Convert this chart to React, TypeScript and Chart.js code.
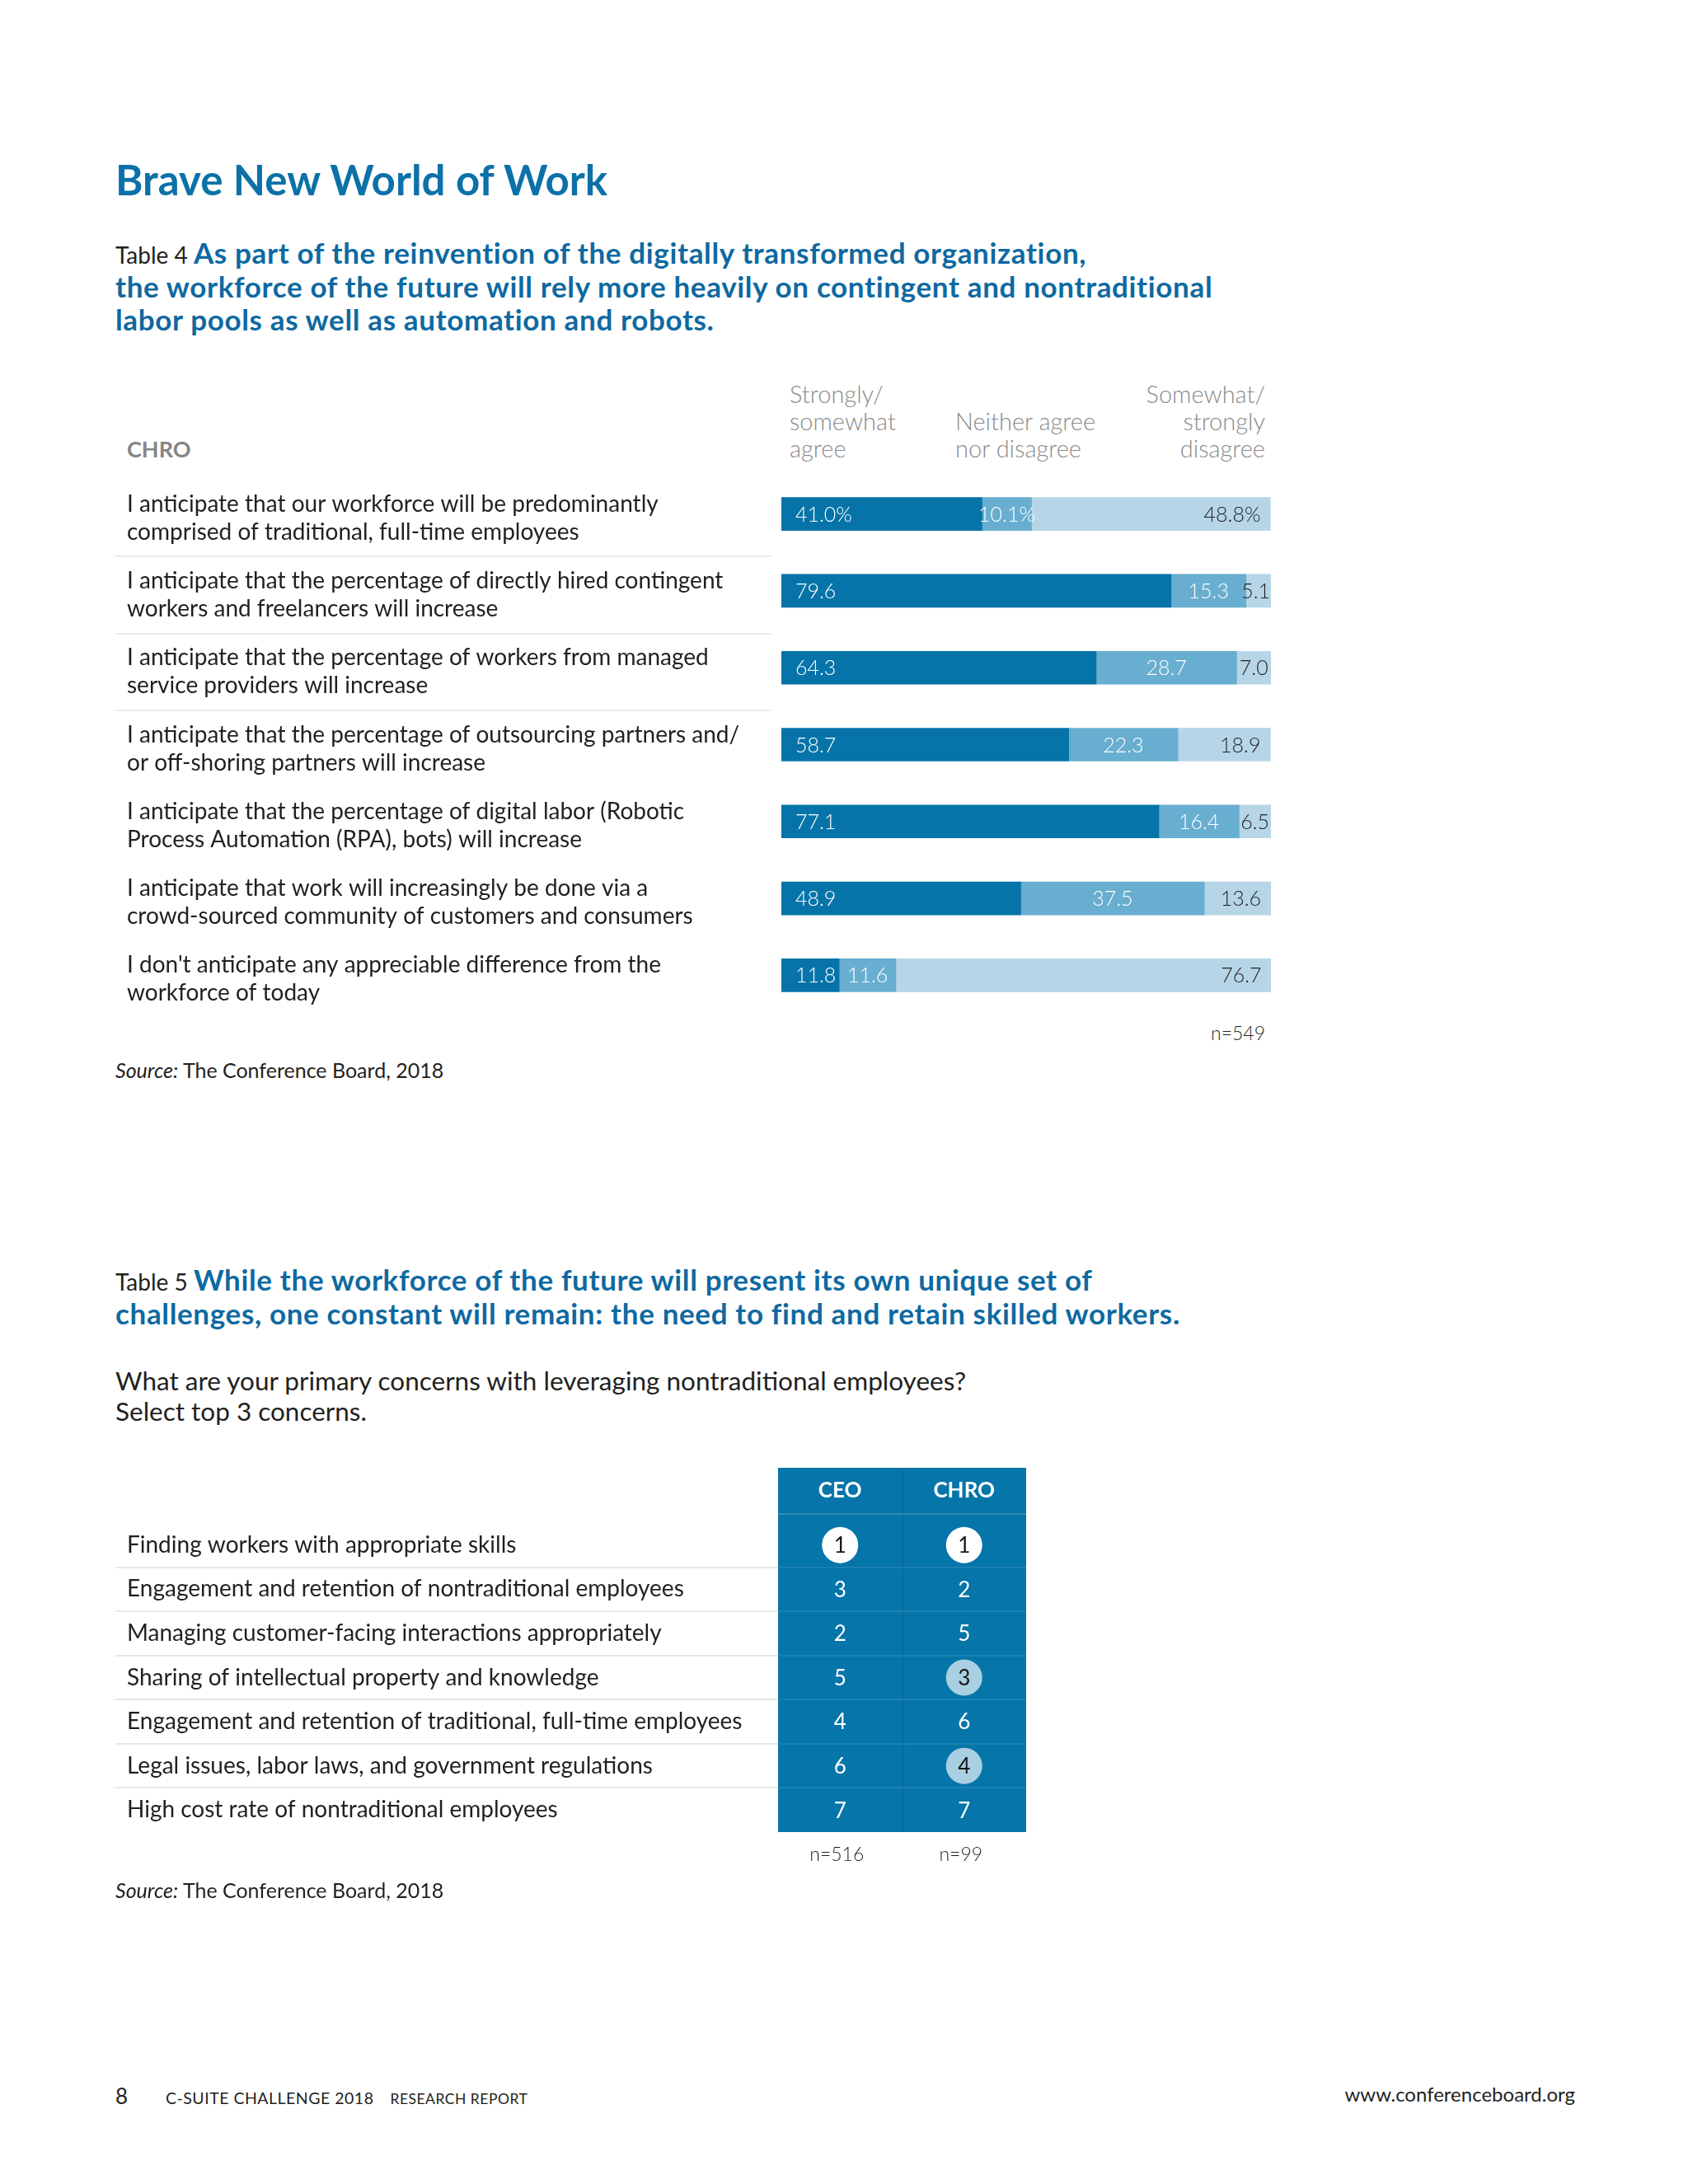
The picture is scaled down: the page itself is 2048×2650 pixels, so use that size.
import React, { useEffect, useRef } from 'react';
import { Chart, registerables } from 'chart.js';

Chart.register(...registerables);

const FONT = 'Lato, "Noto Sans", "DejaVu Sans", sans-serif';

// ---------- Table 4 data ----------
const statements: string[][] = [
  ['I anticipate that our workforce will be predominantly', 'comprised of traditional, full-time employees'],
  ['I anticipate that the percentage of directly hired contingent', 'workers and freelancers will increase'],
  ['I anticipate that the percentage of workers from managed', 'service providers will increase'],
  ['I anticipate that the percentage of outsourcing partners and/', 'or off-shoring partners will increase'],
  ['I anticipate that the percentage of digital labor (Robotic', 'Process Automation (RPA), bots) will increase'],
  ['I anticipate that work will increasingly be done via a', 'crowd-sourced community of customers and consumers'],
  ["I don't anticipate any appreciable difference from the", 'workforce of today'],
];
const agree = [41.0, 79.6, 64.3, 58.7, 77.1, 48.9, 11.8];
const neither = [10.1, 15.3, 28.7, 22.3, 16.4, 37.5, 11.6];
const disagree = [48.8, 5.1, 7.0, 18.9, 6.5, 13.6, 76.7];
const seriesNames = ['Strongly/somewhat agree', 'Neither agree nor disagree', 'Somewhat/strongly disagree'];
const percentRow = 0;
const ruledRows = [0, 1, 2];
const sample4 = 'n=549';

// ---------- Table 5 data ----------
const concerns = [
  'Finding workers with appropriate skills',
  'Engagement and retention of nontraditional employees',
  'Managing customer-facing interactions appropriately',
  'Sharing of intellectual property and knowledge',
  'Engagement and retention of traditional, full-time employees',
  'Legal issues, labor laws, and government regulations',
  'High cost rate of nontraditional employees',
];
const respondents = ['CEO', 'CHRO'];
const ceoRanks = [1, 3, 2, 5, 4, 6, 7];
const chroRanks = [1, 2, 5, 3, 6, 4, 7];
const ceoMarks = ['white', '', '', '', '', '', ''];
const chroMarks = ['white', '', '', 'light', '', 'light', ''];
const sampleSizes = ['n=516', 'n=99'];

const BAR_COLORS = ['#0674a8', '#68aed0', '#b6d6e8'];
const BLOCK_BLUE = '#0675a9';
const TEXT = '#231f20';

type TP = {
  x: number; y: number; size: number; color?: string; weight?: number;
  align?: 'left' | 'right' | 'center'; italic?: boolean; children: React.ReactNode; ls?: number;
};
function T({ x, y, size, color = TEXT, weight = 400, align = 'left', italic, children, ls }: TP) {
  const style: React.CSSProperties = {
    position: 'absolute', top: y - 0.887 * size, fontFamily: FONT, fontSize: size,
    lineHeight: `${size}px`, color, fontWeight: weight, whiteSpace: 'nowrap',
    fontStyle: italic ? 'italic' : 'normal', letterSpacing: ls,
  };
  if (align === 'left') style.left = x;
  else if (align === 'right') { style.left = x - 1400; style.width = 1400; style.textAlign = 'right'; }
  else { style.left = x - 700; style.width = 1400; style.textAlign = 'center'; }
  return <div style={style}>{children}</div>;
}

const barLabels = {
  id: 'barLabels',
  afterDatasetsDraw(chart: any) {
    const ctx = chart.ctx;
    ctx.save();
    ctx.font = `300 25px ${FONT}`;
    ctx.textBaseline = 'middle';
    chart.data.datasets.forEach((ds: any, di: number) => {
      const meta = chart.getDatasetMeta(di);
      meta.data.forEach((el: any, i: number) => {
        const v = ds.data[i] as number;
        const txt = v.toFixed(1) + (i === percentRow ? '%' : '');
        const start = Math.min(el.base, el.x);
        const end = Math.max(el.base, el.x);
        const w = ctx.measureText(txt).width;
        const y = el.y + 1;
        if (di === 0) {
          ctx.fillStyle = '#ffffff'; ctx.textAlign = 'left';
          ctx.fillText(txt, start + 17, y);
        } else if (di === 1) {
          ctx.fillStyle = '#ffffff'; ctx.textAlign = 'center';
          ctx.fillText(txt, (start + end) / 2, y);
        } else {
          ctx.fillStyle = TEXT; ctx.textAlign = 'right';
          const pad = Math.max(1, Math.min(12, (end - start - w) / 2));
          ctx.fillText(txt, end - pad, y);
        }
      });
    });
    ctx.restore();
  },
};

const rowRules = {
  id: 'rowRules',
  afterDraw(chart: any) {
    const ctx = chart.ctx;
    const ys = chart.scales.y;
    ctx.save();
    ctx.strokeStyle = '#ebebeb';
    ctx.lineWidth = 2;
    ruledRows.forEach((i) => {
      const yy = Math.round((ys.getPixelForValue(i) + ys.getPixelForValue(i + 1)) / 2 + 5);
      ctx.beginPath();
      ctx.moveTo(0, yy);
      ctx.lineTo(796, yy);
      ctx.stroke();
    });
    ctx.restore();
  },
};

const tableBlock = {
  id: 'tableBlock',
  beforeDraw(chart: any) {
    const { ctx, chartArea } = chart;
    const top = chart.scales.x.top;
    ctx.save();
    ctx.fillStyle = BLOCK_BLUE;
    ctx.fillRect(chartArea.left, top, chartArea.right - chartArea.left, chartArea.bottom - top);
    ctx.restore();
  },
  beforeDatasetsDraw(chart: any) {
    const { ctx, chartArea } = chart;
    const ys = chart.scales.y;
    const top = chart.scales.x.top;
    ctx.save();
    for (let i = 0; i < concerns.length - 1; i++) {
      const yy = Math.round((ys.getPixelForValue(i) + ys.getPixelForValue(i + 1)) / 2);
      ctx.strokeStyle = '#e8e8e8';
      ctx.lineWidth = 2;
      ctx.beginPath(); ctx.moveTo(0, yy); ctx.lineTo(chartArea.left, yy); ctx.stroke();
      ctx.strokeStyle = 'rgba(255,255,255,0.12)';
      ctx.lineWidth = 1.5;
      ctx.beginPath(); ctx.moveTo(chartArea.left, yy); ctx.lineTo(chartArea.right, yy); ctx.stroke();
    }
    ctx.strokeStyle = 'rgba(255,255,255,0.22)';
    ctx.lineWidth = 1.5;
    const hy = chartArea.top - 11;
    ctx.beginPath(); ctx.moveTo(chartArea.left, hy); ctx.lineTo(chartArea.right, hy); ctx.stroke();
    const mx = Math.round((chartArea.left + chartArea.right) / 2) + 0.5;
    ctx.strokeStyle = 'rgba(0,50,90,0.18)';
    ctx.lineWidth = 1;
    ctx.beginPath(); ctx.moveTo(mx, top); ctx.lineTo(mx, chartArea.bottom); ctx.stroke();
    ctx.restore();
  },
  afterDatasetsDraw(chart: any) {
    const ctx = chart.ctx;
    ctx.save();
    ctx.font = `400 26px ${FONT}`;
    ctx.textAlign = 'center';
    ctx.textBaseline = 'middle';
    const ranks = [ceoRanks, chroRanks];
    const marks = [ceoMarks, chroMarks];
    [0, 1].forEach((di) => {
      const meta = chart.getDatasetMeta(di);
      meta.data.forEach((el: any, i: number) => {
        ctx.fillStyle = marks[di][i] ? '#161616' : '#ffffff';
        ctx.fillText(String(ranks[di][i]), el.x, el.y + 1);
      });
    });
    ctx.restore();
  },
};

function Table4Chart() {
  const ref = useRef<HTMLCanvasElement>(null);
  useEffect(() => {
    if (!ref.current) return;
    const chart = new Chart(ref.current, {
      type: 'bar',
      data: {
        labels: statements as any,
        datasets: [agree, neither, disagree].map((d, i) => ({
          label: seriesNames[i], data: d, backgroundColor: BAR_COLORS[i],
          borderWidth: 0, barThickness: 40,
        })),
      },
      options: {
        indexAxis: 'y', responsive: false, animation: false, events: [],
        layout: { autoPadding: false, padding: { left: 14, right: 3, top: 0, bottom: 0 } },
        plugins: { legend: { display: false }, tooltip: { enabled: false } },
        scales: {
          x: { stacked: true, min: 0, max: 100, display: false },
          y: {
            stacked: true, grid: { display: false, drawTicks: false }, border: { display: false },
            ticks: { crossAlign: 'far', color: TEXT, font: { family: FONT, size: 28, lineHeight: 1.214 }, padding: 0, labelOffset: 5 },
            afterFit: (s: any) => { s.width = 794; s.paddingTop = 0; s.paddingBottom = 0; },
          },
        },
      } as any,
      plugins: [barLabels, rowRules],
    });
    return () => chart.destroy();
  }, []);
  return <canvas ref={ref} width={1405} height={653}
    style={{ position: 'absolute', left: 140, top: 577, width: 1405, height: 653 }} />;
}

function Table5Chart() {
  const ref = useRef<HTMLCanvasElement>(null);
  useEffect(() => {
    if (!ref.current) return;
    const mk = (ranks: number[], marks: string[], who: string) => ({
      label: who,
      data: concerns.map((c, i) => ({ x: who, y: c, rank: ranks[i] })),
      pointRadius: marks.map((m) => (m ? 22 : 0)),
      pointHoverRadius: marks.map((m) => (m ? 22 : 0)),
      pointBackgroundColor: marks.map((m) => (m === 'white' ? '#ffffff' : '#a9cfe3')),
      pointBorderWidth: 0,
      showLine: false,
    });
    const chart = new Chart(ref.current, {
      type: 'scatter',
      data: { datasets: [mk(ceoRanks, ceoMarks, respondents[0]), mk(chroRanks, chroMarks, respondents[1])] as any },
      options: {
        responsive: false, animation: false, events: [],
        layout: { autoPadding: false, padding: { left: 14, right: 5, top: 0, bottom: 0 } },
        plugins: { legend: { display: false }, tooltip: { enabled: false } },
        scales: {
          x: {
            type: 'category', labels: respondents, position: 'top', offset: true,
            grid: { display: false, drawTicks: false }, border: { display: false },
            ticks: { color: '#ffffff', font: { family: FONT, size: 26, weight: 'bold' }, padding: 24 },
            afterFit: (s: any) => { s.height = 67; s.paddingLeft = 0; s.paddingRight = 0; },
          },
          x2: {
            type: 'category', labels: sampleSizes, position: 'bottom', offset: true,
            grid: { display: false, drawTicks: false }, border: { display: false },
            ticks: { color: TEXT, font: { family: FONT, size: 23, weight: 300 }, padding: 14, labelOffset: -4 },
            afterFit: (s: any) => { s.height = 60; s.paddingLeft = 0; s.paddingRight = 0; },
          },
          y: {
            type: 'category', labels: concerns, offset: true,
            grid: { display: false, drawTicks: false }, border: { display: false },
            ticks: { crossAlign: 'far', color: TEXT, font: { family: FONT, size: 28 }, padding: 0 },
            afterFit: (s: any) => { s.width = 790; s.paddingTop = 0; s.paddingBottom = 0; },
          },
        },
      } as any,
      plugins: [tableBlock],
    });
    return () => chart.destroy();
  }, []);
  return <canvas ref={ref} width={1110} height={502}
    style={{ position: 'absolute', left: 140, top: 1781, width: 1110, height: 502 }} />;
}

export default function App() {
  const blue = '#0b71a8';
  const blue2 = '#0e69a1';
  const gray = '#8a8a8a';
  const ttl = { size: 35, weight: 700, color: blue2, ls: 0.65 };
  return (
    <div style={{ position: 'absolute', left: 0, top: 0, width: 2048, height: 2650, background: '#ffffff', overflow: 'hidden' }}>
      <T x={140} y={237} size={51} weight={700} color={blue}>Brave New World of Work</T>

      <T x={140} y={320} {...ttl}>
        <span style={{ fontSize: 28, fontWeight: 400, color: TEXT, letterSpacing: 0 }}>Table 4 </span>As part of the reinvention of the digitally transformed organization,
      </T>
      <T x={140} y={361} {...ttl}>the workforce of the future will rely more heavily on contingent and nontraditional</T>
      <T x={140} y={401} {...ttl}>labor pools as well as automation and robots.</T>

      <T x={958} y={489} size={29} weight={300} color={gray}>Strongly/</T>
      <T x={958} y={522} size={29} weight={300} color={gray}>somewhat</T>
      <T x={958} y={555} size={29} weight={300} color={gray}>agree</T>
      <T x={1159} y={522} size={29} weight={300} color={gray}>Neither agree</T>
      <T x={1159} y={555} size={29} weight={300} color={gray}>nor disagree</T>
      <T x={1535} y={489} size={29} weight={300} color={gray} align="right">Somewhat/</T>
      <T x={1535} y={522} size={29} weight={300} color={gray} align="right">strongly</T>
      <T x={1535} y={555} size={29} weight={300} color={gray} align="right">disagree</T>
      <T x={154} y={555} size={27} weight={700} color="#858585">CHRO</T>

      <Table4Chart />

      <T x={1535} y={1262} size={23} weight={300} align="right">{sample4}</T>
      <T x={140} y={1308} size={25}><i>Source:</i> The Conference Board, 2018</T>

      <T x={140} y={1566} {...ttl}>
        <span style={{ fontSize: 28, fontWeight: 400, color: TEXT, letterSpacing: 0 }}>Table 5 </span>While the workforce of the future will present its own unique set of
      </T>
      <T x={140} y={1607} {...ttl}>challenges, one constant will remain: the need to find and retain skilled workers.</T>

      <T x={140} y={1688} size={31.5}>What are your primary concerns with leveraging nontraditional employees?</T>
      <T x={140} y={1725} size={31.5}>Select top 3 concerns.</T>

      <Table5Chart />

      <T x={140} y={2303} size={25}><i>Source:</i> The Conference Board, 2018</T>

      <T x={140} y={2553} size={26}>8</T>
      <T x={201} y={2553} size={19.5} weight={400} ls={0.5}>
        C-SUITE CHALLENGE 2018<span style={{ display: 'inline-block', width: 20 }} /><span style={{ fontSize: 17.5 }}>RESEARCH REPORT</span>
      </T>
      <T x={1911} y={2550} size={24} align="right">www.conferenceboard.org</T>
    </div>
  );
}
